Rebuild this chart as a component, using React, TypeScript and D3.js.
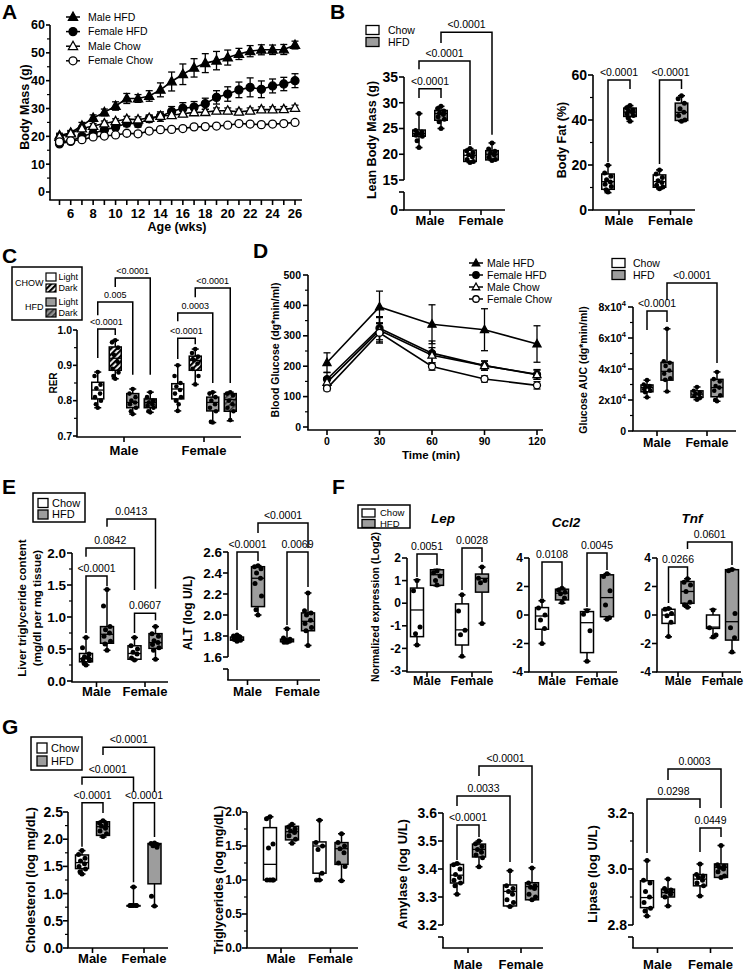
import React from "react";
import * as d3 from "d3";

const FONT = "'Liberation Sans', Arial, Helvetica, sans-serif";
const GRAY = "#9d9d9d";
const SW = 1.6;
const GROUPS = ["Male", "Female"];
const DIET2 = ["Chow", "HFD"];
const DIET4 = ["Chow Light", "Chow Dark", "HFD Light", "HFD Dark"];
const FILL2 = ["#fff", GRAY, "#fff", GRAY];
const FILL4 = ["#fff", "url(#hatchChow)", GRAY, "url(#hatchHFD)", "#fff", "url(#hatchChow)", GRAY, "url(#hatchHFD)"];

// ---------- Panel A: body mass over age ----------
const weeksA = [5, 6, 7, 8, 9, 10, 11, 12, 13, 14, 15, 16, 17, 18, 19, 20, 21, 22, 23, 24, 25, 26];
const bmMaleHFD = [20.3, 21.3, 23.8, 26.6, 28.6, 30.9, 33.6, 33.6, 34.5, 36.7, 39.7, 42.3, 44.6, 46.3, 47.2, 48.3, 49.6, 50.6, 51.1, 51.1, 51.2, 52.8];
const bmMaleHFDErr = [0.8, 0.8, 1.2, 1.1, 1.2, 1.5, 1.8, 1.4, 1.9, 2.5, 3.4, 3.7, 3.3, 3.4, 3.3, 2.7, 2.0, 2.0, 1.8, 1.7, 1.8, 1.4];
const bmFemaleHFD = [17.3, 18.2, 20.0, 21.1, 22.3, 23.3, 24.7, 24.5, 26.3, 27.1, 28.9, 30.1, 30.5, 31.7, 34.0, 35.2, 36.7, 37.6, 36.9, 38.1, 38.8, 40.0];
const bmFemaleHFDErr = [0.6, 0.7, 0.8, 0.9, 1.0, 1.0, 1.2, 1.2, 1.3, 1.7, 1.8, 2.0, 2.0, 2.0, 2.4, 2.6, 2.8, 3.4, 3.0, 2.5, 2.4, 2.5];
const bmMaleChow = [19.8, 21.0, 22.8, 23.7, 24.6, 25.4, 26.2, 26.0, 26.6, 27.3, 27.6, 28.1, 28.6, 28.7, 29.2, 29.2, 28.8, 29.2, 29.6, 29.6, 29.7, 30.2];
const bmMaleChowErr = [0.8, 0.8, 0.9, 0.9, 0.9, 0.9, 1.0, 1.0, 1.0, 1.0, 1.0, 1.0, 1.0, 1.0, 1.0, 1.0, 1.0, 1.0, 1.0, 1.0, 1.0, 1.0];
const bmFemaleChow = [18.0, 18.4, 18.8, 19.8, 20.1, 20.5, 21.1, 20.9, 21.9, 22.4, 22.5, 22.8, 23.4, 23.5, 23.7, 24.0, 24.6, 24.4, 24.2, 24.4, 24.6, 25.0];
const bmFemaleChowErr = [0.5, 0.5, 0.5, 0.5, 0.5, 0.5, 0.5, 0.5, 0.5, 0.5, 0.5, 0.6, 0.6, 0.6, 0.6, 0.6, 0.6, 0.6, 0.6, 0.6, 0.6, 0.6];
const bmTicks = [0, 10, 20, 30, 40, 50, 60];
const bmMinor = [5, 15, 25, 35, 45, 55];

// ---------- Panel B ----------
const leanStats = [[21.3, 23.5, 24.0, 24.7, 27.9], [25.0, 26.6, 27.9, 28.5, 29.3], [18.4, 18.6, 19.8, 20.8, 21.1], [18.8, 18.9, 20.0, 20.7, 22.2]];
const leanPts = [[27.9, 24.6, 24.3, 24.1, 23.9, 23.7, 23.5, 22.6, 21.3], [29.3, 28.9, 28.4, 28.0, 27.7, 27.3, 26.8, 26.3, 25.0], [21.1, 20.7, 20.3, 19.9, 19.5, 19.0, 18.6, 18.4], [22.2, 21.0, 20.6, 20.2, 19.9, 19.4, 19.0, 18.8]];
const leanTicks = [15, 20, 25, 30, 35];
const leanBrackets = [
  { a: 0, b: 1, top: 32.7, la: 30.9, lb: 30.9, label: "<0.0001" },
  { a: 0, b: 2, top: 38.1, la: 36.5, lb: 21.8, label: "<0.0001" },
  { a: 1, b: 3, top: 43.7, la: 41.6, lb: 23.8, label: "<0.0001" },
];
const fatStats = [[7.7, 9.2, 12.6, 16.0, 19.9], [39.4, 41.6, 43.5, 45.3, 46.4], [9.4, 10.1, 12.6, 15.6, 17.8], [39.4, 39.8, 43.4, 47.5, 50.8]];
const fatPts = [[19.9, 16.5, 15.0, 13.5, 12.5, 11.5, 10.5, 9.0, 8.0], [46.4, 45.5, 44.5, 44.0, 43.5, 42.8, 42.0, 41.0, 39.4], [17.8, 16.0, 14.5, 13.0, 12.2, 11.0, 10.2, 9.4], [50.8, 49.5, 47.5, 45.0, 43.5, 42.0, 40.0, 39.5]];
const fatTicks = [0, 20, 40, 60];
const fatMinor = [10, 30, 50];
const fatBrackets = [
  { a: 0, b: 1, top: 57.8, la: 21.3, lb: 53.8, label: "<0.0001" },
  { a: 2, b: 3, top: 57.8, la: 20.4, lb: 53.8, label: "<0.0001" },
];

// ---------- Panel C: RER ----------
const rerStats = [
  [0.78, 0.805, 0.83, 0.852, 0.881], [0.862, 0.886, 0.92, 0.952, 0.971], [0.762, 0.78, 0.795, 0.82, 0.833], [0.767, 0.78, 0.795, 0.805, 0.824],
  [0.771, 0.805, 0.833, 0.848, 0.9], [0.846, 0.886, 0.914, 0.926, 0.946], [0.738, 0.771, 0.795, 0.81, 0.824], [0.743, 0.77, 0.803, 0.82, 0.824],
];
const rerPts = [
  [0.881, 0.87, 0.845, 0.835, 0.82, 0.81, 0.8, 0.79, 0.78], [0.971, 0.965, 0.95, 0.93, 0.91, 0.89, 0.88, 0.87, 0.862],
  [0.833, 0.82, 0.81, 0.8, 0.795, 0.79, 0.78, 0.77, 0.762], [0.824, 0.81, 0.8, 0.795, 0.79, 0.785, 0.78, 0.77, 0.767],
  [0.9, 0.87, 0.85, 0.84, 0.83, 0.82, 0.81, 0.8, 0.79, 0.771], [0.946, 0.935, 0.925, 0.915, 0.905, 0.89, 0.87, 0.846],
  [0.824, 0.82, 0.81, 0.8, 0.79, 0.78, 0.77, 0.74, 0.738], [0.824, 0.82, 0.815, 0.8, 0.79, 0.78, 0.77, 0.745],
];
const rerTicks = [0.7, 0.8, 0.9, 1.0];
const rerMinor = [0.75, 0.85, 0.95];
const rerBrackets = [
  { a: 0, b: 1, top: 1.003, la: 0.921, lb: 0.986, label: "<0.0001" },
  { a: 0, b: 2, top: 1.079, la: 1.042, lb: 0.873, label: "0.005" },
  { a: 1, b: 3, top: 1.147, la: 1.122, lb: 0.873, label: "<0.0001" },
  { a: 4, b: 5, top: 0.977, la: 0.918, lb: 0.96, label: "<0.0001" },
  { a: 4, b: 6, top: 1.048, la: 1.025, lb: 0.85, label: "0.0003" },
  { a: 5, b: 7, top: 1.119, la: 1.093, lb: 0.85, label: "<0.0001" },
];

// ---------- Panel D: GTT ----------
const gttTimes = [0, 30, 60, 90, 120];
const gttMaleHFD = [212, 395, 338, 320, 273];
const gttMaleHFDErr = [32, 52, 64, 69, 60];
const gttFemaleHFD = [157, 325, 243, 202, 173];
const gttFemaleHFDErr = [22, 38, 40, 15, 16];
const gttMaleChow = [147, 318, 236, 202, 172];
const gttMaleChowErr = [15, 42, 25, 15, 15];
const gttFemaleChow = [127, 310, 199, 158, 137];
const gttFemaleChowErr = [8, 30, 12, 10, 12];
const gttTicks = [0, 100, 200, 300, 400, 500];
const gttMinor = [50, 150, 250, 350, 450];
const aucStats = [[21700, 25300, 28000, 29700, 32800], [25500, 32800, 38500, 44200, 65900], [20200, 21700, 23800, 25900, 28400], [19200, 22100, 28000, 33300, 38100]];
const aucPts = [[32800, 30000, 29000, 28500, 28000, 27000, 26000, 25000, 21700], [65900, 45000, 44000, 42000, 39000, 37000, 34000, 33000, 25500], [28400, 26000, 25000, 24000, 23500, 22500, 21500, 20200], [38100, 33500, 32000, 29000, 28000, 26000, 23000, 20000, 19200]];
const aucTicks = [0, 20000, 40000, 60000, 80000];
const aucMinor = [10000, 30000, 50000, 70000];
const aucBrackets = [
  { a: 0, b: 1, top: 77400, la: 65200, lb: 70300, label: "<0.0001" },
  { a: 1, b: 3, top: 95500, la: 84500, lb: 43900, label: "<0.0001" },
];

// ---------- Panel E ----------
const liverStats = [[0.25, 0.3, 0.35, 0.43, 0.68], [0.48, 0.59, 0.73, 0.85, 1.43], [0.33, 0.34, 0.43, 0.55, 0.68], [0.34, 0.51, 0.6, 0.74, 0.85]];
const liverPts = [[0.68, 0.52, 0.42, 0.38, 0.36, 0.34, 0.32, 0.28, 0.25], [1.43, 1.17, 0.85, 0.8, 0.75, 0.7, 0.62, 0.58, 0.48], [0.68, 0.55, 0.5, 0.45, 0.42, 0.36, 0.33], [0.85, 0.74, 0.7, 0.63, 0.6, 0.57, 0.52, 0.48, 0.34]];
const liverTicks = [0, 0.5, 1.0, 1.5, 2.0];
const liverMinor = [0.25, 0.75, 1.25, 1.75];
const liverBrackets = [
  { a: 0, b: 1, top: 1.64, la: 0.75, lb: 1.48, label: "<0.0001" },
  { a: 0, b: 2, top: 2.08, la: 1.94, lb: 1.42, label: "0.0842" },
  { a: 1, b: 3, top: 2.53, la: 2.41, lb: 1.44, label: "0.0413" },
  { a: 2, b: 3, top: 1.06, la: 0.75, lb: 0.95, label: "0.0607" },
];
const altStats = [[1.75, 1.76, 1.77, 1.79, 1.81], [2.0, 2.08, 2.35, 2.46, 2.47], [1.74, 1.745, 1.76, 1.77, 1.87], [1.71, 1.85, 1.94, 2.02, 2.21]];
const altPts = [[1.81, 1.8, 1.79, 1.78, 1.77, 1.77, 1.76, 1.75], [2.47, 2.46, 2.44, 2.4, 2.35, 2.3, 2.18, 2.05, 2.0], [1.87, 1.78, 1.77, 1.76, 1.75, 1.74, 1.74], [2.21, 2.04, 2.02, 2.0, 1.95, 1.92, 1.88, 1.85, 1.71]];
const altTicks = [1.6, 1.8, 2.0, 2.2, 2.4, 2.6];
const altBrackets = [
  { a: 0, b: 1, top: 2.6, la: 1.857, lb: 2.514, label: "<0.0001" },
  { a: 2, b: 3, top: 2.6, la: 1.905, lb: 2.267, label: "0.0069" },
  { a: 1, b: 3, top: 2.876, la: 2.78, lb: 2.638, label: "<0.0001" },
];

// ---------- Panel F ----------
const lepStats = [[-1.85, -1.48, -0.3, 0.67, 1.04], [0.77, 0.79, 1.26, 1.48, 1.5], [-2.37, -1.85, -1.18, -0.03, 0.37], [-0.89, 0.49, 1.1, 1.29, 1.6]];
const lepPts = [[1.0, 0.55, -1.05, -1.35, -1.85], [1.42, 1.35, 1.2, 1.0, 0.8], [0.37, -0.35, -1.2, -1.4, -2.35], [1.6, 1.1, 1.0, 0.9, -0.9]];
const lepTicks = [-3, -2, -1, 0, 1, 2];
const lepBrackets = [
  { a: 0, b: 1, top: 2.18, la: 1.16, lb: 1.69, label: "0.0051" },
  { a: 2, b: 3, top: 2.44, la: 0.58, lb: 1.82, label: "0.0028" },
];
const ccl2Stats = [[-2.0, -1.0, -0.07, 0.52, 1.0], [0.82, 1.06, 1.53, 1.81, 1.88], [-3.25, -2.64, -0.54, 0.24, 0.4], [-0.3, -0.12, 1.22, 2.82, 2.9]];
const ccl2Pts = [[1.0, 0.5, 0.0, -0.35, -0.95, -2.0], [1.88, 1.75, 1.6, 1.5, 1.2, 0.9], [0.3, 0.05, -1.1, -3.25], [2.9, 2.7, 1.7, 0.7, -0.2, -0.3]];
const ccl2Brackets = [
  { a: 0, b: 1, top: 3.72, la: 1.19, lb: 2.04, label: "0.0108" },
  { a: 2, b: 3, top: 4.35, la: 0.56, lb: 3.16, label: "0.0045" },
];
const tnfStats = [[-1.53, -0.59, 0.0, 0.4, 0.47], [0.54, 0.82, 1.65, 2.35, 2.54], [-1.6, -0.94, -0.85, 0.0, 0.4], [-2.64, -1.76, -0.47, 3.18, 3.22]];
const tnfPts = [[0.45, 0.4, 0.1, -0.05, -0.5, -1.5], [2.54, 2.3, 2.1, 1.65, 0.9, 0.7, 0.55], [0.35, -0.9, -1.4, -1.55], [3.2, 3.1, 0.1, -0.9, -1.6, -2.6]];
const tnfBrackets = [
  { a: 0, b: 1, top: 3.37, la: 0.84, lb: 2.67, label: "0.0266" },
  { a: 1, b: 3, top: 5.12, la: 4.63, lb: 3.51, label: "0.0601" },
];
const geneTicks = [-4, -2, 0, 2, 4];

// ---------- Panel G ----------
const cholStats = [[1.36, 1.46, 1.57, 1.71, 1.79], [2.04, 2.07, 2.23, 2.32, 2.34], [0.78, 0.78, 0.78, 0.78, 1.12], [0.77, 1.18, 1.91, 1.92, 1.93]];
const cholPts = [[1.79, 1.72, 1.65, 1.6, 1.55, 1.5, 1.45, 1.4, 1.36], [2.34, 2.3, 2.28, 2.24, 2.2, 2.15, 2.1, 2.05], [1.12, 0.78, 0.78, 0.78, 0.78, 0.78, 0.78], [1.93, 1.92, 1.9, 1.88, 1.85, 0.95, 0.77]];
const cholTicks = [0, 0.5, 1.0, 1.5, 2.0, 2.5];
const cholMinor = [0.25, 0.75, 1.25, 1.75, 2.25];
const cholBrackets = [
  { a: 0, b: 1, top: 2.67, la: 1.86, lb: 2.48, label: "<0.0001" },
  { a: 2, b: 3, top: 2.67, la: 1.21, lb: 2.04, label: "<0.0001" },
  { a: 0, b: 2, top: 3.14, la: 3.0, lb: 2.87, label: "<0.0001" },
  { a: 1, b: 3, top: 3.69, la: 3.55, lb: 2.87, label: "<0.0001" },
];
const tgStats = [[1.0, 1.0, 1.23, 1.77, 1.93], [1.54, 1.59, 1.71, 1.79, 1.82], [1.0, 1.1, 1.5, 1.56, 1.88], [0.99, 1.23, 1.46, 1.55, 1.68]];
const tgPts = [[1.93, 1.9, 1.53, 1.47, 1.0, 1.0, 1.0, 1.0], [1.82, 1.78, 1.75, 1.72, 1.7, 1.65, 1.6, 1.54], [1.88, 1.55, 1.5, 1.45, 1.1, 1.0, 1.0], [1.68, 1.55, 1.5, 1.46, 1.4, 1.25, 1.2, 0.99]];
const tgTicks = [0, 0.5, 1.0, 1.5, 2.0];
const tgMinor = [0.25, 0.75, 1.25, 1.75];
const amyStats = [[3.31, 3.35, 3.378, 3.416, 3.42], [3.408, 3.443, 3.47, 3.489, 3.5], [3.266, 3.268, 3.32, 3.343, 3.394], [3.29, 3.29, 3.337, 3.351, 3.404]];
const amyPts = [[3.42, 3.415, 3.4, 3.38, 3.37, 3.36, 3.35, 3.34, 3.31], [3.5, 3.49, 3.48, 3.47, 3.46, 3.45, 3.44, 3.408], [3.394, 3.34, 3.33, 3.32, 3.31, 3.29, 3.28, 3.266], [3.404, 3.35, 3.34, 3.335, 3.33, 3.31, 3.3, 3.29]];
const amyTicks = [3.2, 3.3, 3.4, 3.5, 3.6];
const amyBrackets = [
  { a: 0, b: 1, top: 3.557, la: 3.432, lb: 3.514, label: "<0.0001" },
  { a: 0, b: 2, top: 3.661, la: 3.625, lb: 3.425, label: "0.0033" },
  { a: 1, b: 3, top: 3.768, la: 3.732, lb: 3.421, label: "<0.0001" },
];
const lipStats = [[2.832, 2.862, 2.898, 2.958, 3.03], [2.868, 2.9, 2.916, 2.928, 2.964], [2.904, 2.94, 2.964, 2.98, 3.018], [2.97, 2.97, 3.006, 3.018, 3.084]];
const lipPts = [[3.03, 2.96, 2.95, 2.92, 2.9, 2.88, 2.86, 2.85, 2.832], [2.964, 2.93, 2.925, 2.92, 2.91, 2.9, 2.868], [3.018, 2.98, 2.975, 2.97, 2.96, 2.95, 2.94, 2.904], [3.084, 3.015, 3.01, 3.005, 3.0, 2.99, 2.975, 2.97]];
const lipTicks = [2.8, 3.0, 3.2];
const lipMinor = [2.9, 3.1];
const lipBrackets = [
  { a: 2, b: 3, top: 3.146, la: 3.061, lb: 3.114, label: "0.0449" },
  { a: 0, b: 2, top: 3.25, la: 3.057, lb: 3.218, label: "0.0298" },
  { a: 1, b: 3, top: 3.357, la: 3.318, lb: 3.218, label: "0.0003" },
];

// ================= components =================
type Bracket = { a: number; b: number; top: number; la: number; lb: number; label: string };
type BoxProps = {
  x0: number; x1: number; axisY: number;
  domain: [number, number]; range: [number, number];
  ticks: number[]; minor?: number[]; fmt: (v: number) => React.ReactNode;
  brk?: { gap: number; zero?: string };
  centers: [number, number]; spread: number; subs: string[];
  stats: number[][]; points: number[][]; fills: string[];
  brackets?: Bracket[];
  tickFont: number; catFont?: number; catY: number; pFont?: number; boxW?: number; r?: number;
  tickGap?: number; tickLen?: number;
};

const JIT = [0, -3.5, 3, -1.5, 2.5, -3, 3.5, -2, 1, -0.5, 2];
const f1 = d3.format(".1f");
const fInt = (v: number) => String(v);

function BoxPanel(p: BoxProps) {
  const y = d3.scaleLinear().domain(p.domain).range(p.range);
  const gx = d3.scalePoint<string>().domain(GROUPS).range(p.centers);
  const sx = d3.scaleBand<string>().domain(p.subs).range([-p.spread, p.spread]);
  const n = p.subs.length;
  const xOf = (i: number) => (gx(GROUPS[Math.floor(i / n)]) as number) + (sx(p.subs[i % n]) as number) + sx.bandwidth() / 2;
  const bw = p.boxW ?? 13;
  const r = p.r ?? 2.5;
  const yMin = y(p.domain[0]);
  const yMax = y(p.domain[1]);
  const pf = p.pFont ?? 10.5;
  const tl = p.tickLen ?? 5;
  const tg = p.tickGap ?? 7;
  return (
    <g>
      <line x1={p.x0} x2={p.x0} y1={yMax} y2={p.brk ? yMin : p.axisY} stroke="#000" strokeWidth={SW} />
      {p.brk && (
        <g>
          <line x1={p.x0} x2={p.x0} y1={yMin + p.brk.gap} y2={p.axisY} stroke="#000" strokeWidth={SW} />
          <line x1={p.x0 - tl} x2={p.x0} y1={yMin + p.brk.gap} y2={yMin + p.brk.gap} stroke="#000" strokeWidth={SW} />
          {p.brk.zero && (
            <g>
              <line x1={p.x0 - tl} x2={p.x0} y1={p.axisY} y2={p.axisY} stroke="#000" strokeWidth={SW} />
              <text x={p.x0 - tg} y={p.axisY} dy="0.35em" textAnchor="end" fontSize={p.tickFont} fontWeight="bold">{p.brk.zero}</text>
            </g>
          )}
        </g>
      )}
      <line x1={p.x0 - SW / 2} x2={p.x1} y1={p.axisY} y2={p.axisY} stroke="#000" strokeWidth={SW} />
      {p.ticks.map((t) => (
        <g key={"t" + t}>
          <line x1={p.x0 - tl} x2={p.x0} y1={y(t)} y2={y(t)} stroke="#000" strokeWidth={SW} />
          <text x={p.x0 - tg} y={y(t)} dy="0.35em" textAnchor="end" fontSize={p.tickFont} fontWeight="bold">{p.fmt(t)}</text>
        </g>
      ))}
      {(p.minor || []).map((t) => (
        <line key={"m" + t} x1={p.x0 - 3} x2={p.x0} y1={y(t)} y2={y(t)} stroke="#000" strokeWidth={1.2} />
      ))}
      {GROUPS.map((g) => (
        <g key={g}>
          <line x1={gx(g)} x2={gx(g)} y1={p.axisY} y2={p.axisY + 5} stroke="#000" strokeWidth={SW} />
          <text x={gx(g)} y={p.catY} textAnchor="middle" fontSize={p.catFont ?? 13} fontWeight="bold">{g}</text>
        </g>
      ))}
      {p.stats.map((s, i) => {
        const cx = xOf(i);
        const [mn, q1, md, q3, mx] = s;
        return (
          <g key={"b" + i}>
            <line x1={cx} x2={cx} y1={y(mx)} y2={y(q3)} stroke="#000" strokeWidth={1.5} />
            <line x1={cx} x2={cx} y1={y(q1)} y2={y(mn)} stroke="#000" strokeWidth={1.5} />
            <line x1={cx - 3.5} x2={cx + 3.5} y1={y(mx)} y2={y(mx)} stroke="#000" strokeWidth={1.5} />
            <line x1={cx - 3.5} x2={cx + 3.5} y1={y(mn)} y2={y(mn)} stroke="#000" strokeWidth={1.5} />
            <rect x={cx - bw / 2} y={y(q3)} width={bw} height={Math.max(0.5, y(q1) - y(q3))} fill={p.fills[i]} stroke="#000" strokeWidth={1.5} />
            <line x1={cx - bw / 2} x2={cx + bw / 2} y1={y(md)} y2={y(md)} stroke="#000" strokeWidth={1.3} />
          </g>
        );
      })}
      {p.points.map((pts, i) =>
        pts.map((v, k) => {
          const off = k === 0 || k === pts.length - 1 ? 0 : (JIT[k % JIT.length] * bw) / 13;
          return <circle key={"p" + i + "_" + k} cx={xOf(i) + off} cy={y(v)} r={r} fill="#000" />;
        })
      )}
      {(p.brackets || []).map((b, i) => {
        const xa = xOf(b.a);
        const xb = xOf(b.b);
        return (
          <g key={"br" + i}>
            <path d={`M${xa},${y(b.la)}V${y(b.top)}H${xb}V${y(b.lb)}`} fill="none" stroke="#000" strokeWidth={1.5} />
            <text x={(xa + xb) / 2} y={y(b.top) - 4} textAnchor="middle" fontSize={pf}>{b.label}</text>
          </g>
        );
      })}
    </g>
  );
}

type Series = { name: string; kind: "tri" | "circle"; filled: boolean; values: number[]; errs: number[] };

function Marker({ kind, filled, x, y, s }: { kind: "tri" | "circle"; filled: boolean; x: number; y: number; s: number }) {
  if (kind === "tri") {
    const w = s * 1.15;
    return (
      <path d={`M${x},${y - s * 0.62}L${x + w / 2},${y + s * 0.42}L${x - w / 2},${y + s * 0.42}Z`} fill={filled ? "#000" : "#fff"} stroke="#000" strokeWidth={1.3} />
    );
  }
  return <circle cx={x} cy={y} r={s / 2} fill={filled ? "#000" : "#fff"} stroke="#000" strokeWidth={1.3} />;
}

function Lines({ xs, series, x, y, ms, cap }: { xs: number[]; series: Series[]; x: d3.ScaleLinear<number, number>; y: d3.ScaleLinear<number, number>; ms: number; cap: number }) {
  const line = d3.line<number>().x((_, i) => x(xs[i])).y((v) => y(v));
  return (
    <g>
      {series.map((s) => (
        <path key={"l" + s.name} d={line(s.values) || ""} fill="none" stroke="#000" strokeWidth={1.6} />
      ))}
      {series.map((s) =>
        s.values.map((v, i) => {
          const cx = x(xs[i]);
          const hi = y(v + s.errs[i]);
          const lo = y(v - s.errs[i]);
          return (
            <g key={"e" + s.name + i}>
              <line x1={cx} x2={cx} y1={hi} y2={lo} stroke="#000" strokeWidth={1.3} />
              <line x1={cx - cap} x2={cx + cap} y1={hi} y2={hi} stroke="#000" strokeWidth={1.3} />
              <line x1={cx - cap} x2={cx + cap} y1={lo} y2={lo} stroke="#000" strokeWidth={1.3} />
            </g>
          );
        })
      )}
      {series.map((s) => s.values.map((v, i) => <Marker key={"k" + s.name + i} kind={s.kind} filled={s.filled} x={x(xs[i])} y={y(v)} s={ms} />))}
    </g>
  );
}

function LineLegend({ series, x, y0, dy, fs, ms, tx }: { series: Series[]; x: number; y0: number; dy: number; fs: number; ms: number; tx: number }) {
  return (
    <g>
      {series.map((s, i) => (
        <g key={"lg" + s.name}>
          <line x1={x - 7} x2={x + 7} y1={y0 + i * dy} y2={y0 + i * dy} stroke="#000" strokeWidth={1.5} />
          <Marker kind={s.kind} filled={s.filled} x={x} y={y0 + i * dy} s={ms} />
          <text x={x + tx} y={y0 + i * dy} dy="0.35em" fontSize={fs}>{s.name}</text>
        </g>
      ))}
    </g>
  );
}

function DietLegend({ x, y0, dy, fs, sw, sh, tx, frame }: { x: number; y0: number; dy: number; fs: number; sw: number; sh: number; tx: number; frame?: [number, number, number, number] }) {
  const fills = ["#fff", GRAY];
  return (
    <g>
      {frame && <rect x={frame[0]} y={frame[1]} width={frame[2]} height={frame[3]} fill="#fff" stroke="#000" strokeWidth={1.5} />}
      {DIET2.map((d, i) => (
        <g key={"dl" + d}>
          <rect x={x} y={y0 + i * dy - sh / 2} width={sw} height={sh} fill={fills[i]} stroke="#000" strokeWidth={1.3} />
          <text x={x + sw + tx} y={y0 + i * dy} dy="0.35em" fontSize={fs}>{d}</text>
        </g>
      ))}
    </g>
  );
}

function YLabel({ x, y, fs, children }: { x: number; y: number; fs: number; children: React.ReactNode }) {
  return (
    <text transform={`translate(${x},${y}) rotate(-90)`} textAnchor="middle" dy="0.35em" fontSize={fs} fontWeight="bold">{children}</text>
  );
}

function Letter({ x, y, t }: { x: number; y: number; t: string }) {
  return <text x={x} y={y} fontSize={21} fontWeight="bold">{t}</text>;
}

function PanelA() {
  const x = d3.scaleLinear().domain([5, 26]).range([59.5, 295]);
  const y = d3.scaleLinear().domain([0, 60]).range([192, 25]);
  const series: Series[] = [
    { name: "Male HFD", kind: "tri", filled: true, values: bmMaleHFD, errs: bmMaleHFDErr },
    { name: "Female HFD", kind: "circle", filled: true, values: bmFemaleHFD, errs: bmFemaleHFDErr },
    { name: "Male Chow", kind: "tri", filled: false, values: bmMaleChow, errs: bmMaleChowErr },
    { name: "Female Chow", kind: "circle", filled: false, values: bmFemaleChow, errs: bmFemaleChowErr },
  ];
  const axY = 200;
  const x0 = 50;
  return (
    <g>
      <line x1={x0} x2={x0} y1={y(60)} y2={axY} stroke="#000" strokeWidth={SW} />
      <line x1={x0 - SW / 2} x2={302} y1={axY} y2={axY} stroke="#000" strokeWidth={SW} />
      {bmTicks.map((t) => (
        <g key={"ya" + t}>
          <line x1={x0 - 4} x2={x0} y1={y(t)} y2={y(t)} stroke="#000" strokeWidth={SW} />
          <text x={x0 - 5} y={y(t)} dy="0.35em" textAnchor="end" fontSize={12.5} fontWeight="bold">{t}</text>
        </g>
      ))}
      {bmMinor.map((t) => (
        <line key={"ym" + t} x1={x0 - 3} x2={x0} y1={y(t)} y2={y(t)} stroke="#000" strokeWidth={1.2} />
      ))}
      {weeksA.map((w) => (
        <g key={"xa" + w}>
          <line x1={x(w)} x2={x(w)} y1={axY} y2={axY + 5} stroke="#000" strokeWidth={SW} />
          {w % 2 === 0 && (
            <text x={x(w)} y={axY + 18} textAnchor="middle" fontSize={13} fontWeight="bold">{w}</text>
          )}
        </g>
      ))}
      <Lines xs={weeksA} series={series} x={x} y={y} ms={8} cap={3.5} />
      <LineLegend series={series} x={73} y0={17} dy={14.6} fs={10.5} ms={8} tx={15} />
      <YLabel x={25} y={107} fs={12.5}>Body Mass (g)</YLabel>
      <text x={177} y={231} textAnchor="middle" fontSize={12.5} fontWeight="bold">Age (wks)</text>
    </g>
  );
}

function PanelDLine() {
  const x = d3.scaleLinear().domain([0, 120]).range([327, 537]);
  const y = d3.scaleLinear().domain([0, 500]).range([427, 275]);
  const series: Series[] = [
    { name: "Male HFD", kind: "tri", filled: true, values: gttMaleHFD, errs: gttMaleHFDErr },
    { name: "Female HFD", kind: "circle", filled: true, values: gttFemaleHFD, errs: gttFemaleHFDErr },
    { name: "Male Chow", kind: "tri", filled: false, values: gttMaleChow, errs: gttMaleChowErr },
    { name: "Female Chow", kind: "circle", filled: false, values: gttFemaleChow, errs: gttFemaleChowErr },
  ];
  const x0 = 308;
  const axY = 430;
  return (
    <g>
      <line x1={x0} x2={x0} y1={y(500)} y2={axY} stroke="#000" strokeWidth={SW} />
      <line x1={x0 - SW / 2} x2={543} y1={axY} y2={axY} stroke="#000" strokeWidth={SW} />
      {gttTicks.map((t) => (
        <g key={"yd" + t}>
          <line x1={x0 - 5} x2={x0} y1={y(t)} y2={y(t)} stroke="#000" strokeWidth={SW} />
          <text x={x0 - 7} y={y(t)} dy="0.35em" textAnchor="end" fontSize={10.5} fontWeight="bold">{t}</text>
        </g>
      ))}
      {gttMinor.map((t) => (
        <line key={"ydm" + t} x1={x0 - 3} x2={x0} y1={y(t)} y2={y(t)} stroke="#000" strokeWidth={1.2} />
      ))}
      {gttTimes.map((t) => (
        <g key={"xd" + t}>
          <line x1={x(t)} x2={x(t)} y1={axY} y2={axY + 5} stroke="#000" strokeWidth={SW} />
          <text x={x(t)} y={axY + 15} textAnchor="middle" fontSize={10.5} fontWeight="bold">{t}</text>
        </g>
      ))}
      <Lines xs={gttTimes} series={series} x={x} y={y} ms={7} cap={3.5} />
      <LineLegend series={series} x={476} y0={263} dy={12} fs={10.5} ms={6.5} tx={11} />
      <YLabel x={275} y={350} fs={10.5}>Blood Glucose (dg*min/ml)</YLabel>
      <text x={431} y={459} textAnchor="middle" fontSize={11.5} fontWeight="bold">Time (min)</text>
    </g>
  );
}

const aucFmt = (v: number) =>
  v === 0 ? "0" : (
    <>
      {`${v / 10000}x10`}
      <tspan dy={-5} fontSize={7.5}>4</tspan>
    </>
  );

function RerLegend() {
  const fills = ["#fff", "url(#hatchChow)", GRAY, "url(#hatchHFD)"];
  const names = ["Light", "Dark", "Light", "Dark"];
  const rows = [277, 288, 302, 313];
  return (
    <g>
      <rect x={12} y={267} width={70} height={53} fill="#fff" stroke="#000" strokeWidth={1.5} />
      <text x={15} y={283} dy="0.35em" fontSize={9}>CHOW</text>
      <text x={25} y={307} dy="0.35em" fontSize={9}>HFD</text>
      {names.map((nm, i) => (
        <g key={"rl" + i}>
          <rect x={46} y={rows[i] - 4} width={10} height={8} fill={fills[i]} stroke="#000" strokeWidth={1.2} />
          <text x={58.5} y={rows[i]} dy="0.35em" fontSize={9}>{nm}</text>
        </g>
      ))}
    </g>
  );
}

export default function App() {
  return (
    <svg width={744} height={971} style={{ position: "absolute", left: 0, top: 0, background: "#fff" }} fontFamily={FONT}>
      <defs>
        <pattern id="hatchChow" patternUnits="userSpaceOnUse" width={4} height={4} patternTransform="rotate(45)">
          <rect width={4} height={4} fill="#fff" />
          <rect width={2.2} height={4} fill="#000" />
        </pattern>
        <pattern id="hatchHFD" patternUnits="userSpaceOnUse" width={4} height={4} patternTransform="rotate(45)">
          <rect width={4} height={4} fill="#8f8f8f" />
          <rect width={1.6} height={4} fill="#333" />
        </pattern>
      </defs>
      <rect width={744} height={971} fill="#fff" />

      {/* A */}
      <Letter x={2} y={19} t="A" />
      <PanelA />

      {/* B */}
      <Letter x={330} y={19} t="B" />
      <DietLegend x={366} y0={30} dy={12} fs={10.5} sw={13} sh={9} tx={9} />
      <BoxPanel x0={404} x1={505} axisY={210} domain={[15, 35]} range={[180, 77]} ticks={leanTicks} fmt={fInt}
        brk={{ gap: 12, zero: "0" }} centers={[430, 481]} spread={22} subs={DIET2} stats={leanStats} points={leanPts}
        fills={FILL2} brackets={leanBrackets} tickFont={14} catY={225} boxW={12.5} tickGap={6} />
      <YLabel x={372} y={140} fs={12.5}>Lean Body Mass (g)</YLabel>
      <BoxPanel x0={593} x1={695} axisY={210} domain={[0, 60]} range={[210, 75]} ticks={fatTicks} minor={fatMinor} fmt={fInt}
        centers={[619, 670.5]} spread={22} subs={DIET2} stats={fatStats} points={fatPts}
        fills={FILL2} brackets={fatBrackets} tickFont={14} catY={225} boxW={12.5} tickGap={6} />
      <YLabel x={562} y={140} fs={12.5}>Body Fat (%)</YLabel>

      {/* C */}
      <Letter x={2} y={263} t="C" />
      <RerLegend />
      <BoxPanel x0={77} x1={241} axisY={437} domain={[0.7, 1.0]} range={[436, 330]} ticks={rerTicks} minor={rerMinor} fmt={f1}
        centers={[124, 204]} spread={35} subs={DIET4} stats={rerStats} points={rerPts}
        fills={FILL4} brackets={rerBrackets} tickFont={10.5} tickGap={5} tickLen={4} catY={455} pFont={9} boxW={12} r={2.3} />
      <YLabel x={53} y={383} fs={10}>RER</YLabel>

      {/* D */}
      <Letter x={253} y={258} t="D" />
      <PanelDLine />
      <DietLegend x={612} y0={263} dy={12} fs={10.5} sw={13} sh={9} tx={8} />
      <BoxPanel x0={633} x1={736} axisY={431} domain={[0, 80000]} range={[431, 307]} ticks={aucTicks} minor={aucMinor} fmt={aucFmt}
        centers={[657, 707]} spread={20} subs={DIET2} stats={aucStats} points={aucPts}
        fills={FILL2} brackets={aucBrackets} tickFont={10.5} catY={447} catFont={12.5} boxW={12} r={2.3} />
      <YLabel x={583} y={370} fs={10.5}>Glucose AUC (dg*min/ml)</YLabel>

      {/* E */}
      <Letter x={2} y={494} t="E" />
      <DietLegend x={38} y0={503} dy={11.5} fs={11} sw={10} sh={9} tx={4} frame={[33, 493, 52, 29]} />
      <BoxPanel x0={72} x1={168} axisY={682} domain={[0, 2]} range={[681, 553]} ticks={liverTicks} minor={liverMinor} fmt={f1}
        centers={[96.5, 145]} spread={21} subs={DIET2} stats={liverStats} points={liverPts}
        fills={FILL2} brackets={liverBrackets} tickFont={13.5} catY={696} tickGap={6} />
      <YLabel x={22} y={608} fs={11.5}>Liver triglyceride content</YLabel>
      <YLabel x={37} y={608} fs={11.5}>(mg/dl per mg tissue)</YLabel>
      <BoxPanel x0={228} x1={320} axisY={680} domain={[1.6, 2.6]} range={[657, 552]} ticks={altTicks} fmt={f1}
        brk={{ gap: 12 }} centers={[247.5, 297.5]} spread={21} subs={DIET2} stats={altStats} points={altPts}
        fills={FILL2} brackets={altBrackets} tickFont={13.5} catY={696} tickGap={6} />
      <YLabel x={188} y={613} fs={12}>ALT (log U/L)</YLabel>

      {/* F */}
      <Letter x={332} y={494} t="F" />
      <DietLegend x={362} y0={513} dy={10.5} fs={9.5} sw={13} sh={8} tx={5} frame={[358, 505, 52, 23]} />
      <text x={443} y={523} textAnchor="middle" fontSize={13.5} fontWeight="bold" fontStyle="italic">Lep</text>
      <text x={566} y={527} textAnchor="middle" fontSize={13.5} fontWeight="bold" fontStyle="italic">Ccl2</text>
      <text x={692} y={523} textAnchor="middle" fontSize={13.5} fontWeight="bold" fontStyle="italic">Tnf</text>
      <BoxPanel x0={407} x1={492} axisY={672} domain={[-3, 2]} range={[671, 558]} ticks={lepTicks} fmt={fInt}
        centers={[427, 472]} spread={20} subs={DIET2} stats={lepStats} points={lepPts}
        fills={FILL2} brackets={lepBrackets} tickFont={12} catY={685} catFont={12.5} tickGap={6} />
      <BoxPanel x0={529} x1={617} axisY={672} domain={[-4, 4]} range={[672, 558]} ticks={geneTicks} fmt={fInt}
        centers={[552, 597]} spread={20} subs={DIET2} stats={ccl2Stats} points={ccl2Pts}
        fills={FILL2} brackets={ccl2Brackets} tickFont={12} catY={685} catFont={12.5} tickGap={6} />
      <BoxPanel x0={657} x1={741} axisY={672} domain={[-4, 4]} range={[672, 558]} ticks={geneTicks} fmt={fInt}
        centers={[678, 722.5]} spread={19} subs={DIET2} stats={tnfStats} points={tnfPts}
        fills={FILL2} brackets={tnfBrackets} tickFont={12} catY={685} catFont={12} tickGap={6} />
      <YLabel x={375} y={607} fs={10.5}>Normalized expression (Log2)</YLabel>

      {/* G */}
      <Letter x={2} y={734} t="G" />
      <DietLegend x={37} y0={748} dy={13} fs={11} sw={10} sh={10} tx={4} frame={[31, 737, 51, 33]} />
      <BoxPanel x0={68} x1={168} axisY={948} domain={[0, 2.5]} range={[948, 812]} ticks={cholTicks} minor={cholMinor} fmt={f1}
        centers={[92.5, 144]} spread={21} subs={DIET2} stats={cholStats} points={cholPts}
        fills={FILL2} brackets={cholBrackets} tickFont={14} catY={963} tickGap={5} />
      <YLabel x={30} y={880} fs={13}>Cholesterol (log mg/dL)</YLabel>
      <BoxPanel x0={247} x1={358} axisY={948} domain={[0, 2]} range={[948, 812]} ticks={tgTicks} minor={tgMinor} fmt={f1}
        centers={[281, 330.5]} spread={22} subs={DIET2} stats={tgStats} points={tgPts}
        fills={FILL2} tickFont={12} catY={963} tickGap={5} />
      <YLabel x={219} y={880} fs={12.5}>Triglycerides (log mg/dL)</YLabel>
      <BoxPanel x0={443} x1={543} axisY={948} domain={[3.2, 3.6]} range={[925, 813]} ticks={amyTicks} fmt={f1}
        brk={{ gap: 12 }} centers={[468, 521]} spread={22} subs={DIET2} stats={amyStats} points={amyPts}
        fills={FILL2} brackets={amyBrackets} tickFont={14} catY={969} tickGap={6} />
      <YLabel x={402} y={874} fs={13}>Amylase (log U/L)</YLabel>
      <BoxPanel x0={633} x1={733} axisY={948} domain={[2.8, 3.2]} range={[925, 813]} ticks={lipTicks} minor={lipMinor} fmt={f1}
        brk={{ gap: 12 }} centers={[657.5, 710.5]} spread={21} subs={DIET2} stats={lipStats} points={lipPts}
        fills={FILL2} brackets={lipBrackets} tickFont={14} catY={969} tickGap={6} />
      <YLabel x={592} y={874} fs={13}>Lipase (log U/L)</YLabel>
    </svg>
  );
}
